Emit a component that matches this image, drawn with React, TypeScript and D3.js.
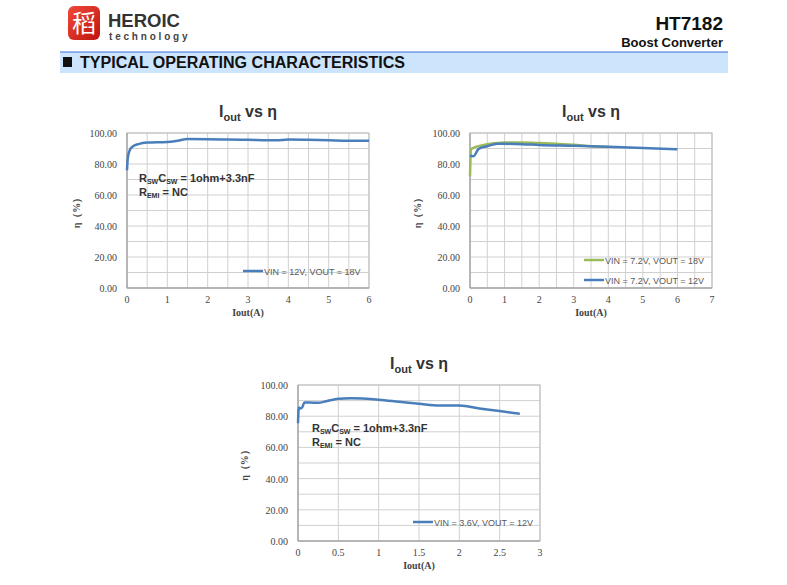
import React from 'react';
import * as d3 from 'd3';

// efficiency curves, Iout (A) vs efficiency (%)
const iout12to18 = [0, 0.02, 0.07, 0.15, 0.3, 0.5, 1, 1.25, 1.5, 2, 2.5, 3, 3.5, 3.7, 4, 4.5, 5, 5.5, 6];
const eff12to18 = [76, 84, 89, 91.5, 93, 93.8, 94.2, 95, 96.1, 96, 95.8, 95.6, 95.3, 95.3, 95.8, 95.6, 95.3, 95, 95];

const iout72to18 = [0, 0.03, 0.1, 0.3, 0.5, 0.8, 1, 1.5, 2, 2.5, 3, 3.5, 4];
const eff72to18 = [72, 89.5, 90.5, 91.8, 92.8, 93.6, 93.8, 93.8, 93.5, 93, 92.4, 91.5, 91];

const iout72to12 = [0, 0.1, 0.25, 0.5, 0.8, 1, 1.5, 2, 3, 4, 5, 6];
const eff72to12 = [85.3, 85, 89.8, 91.5, 93, 93, 92.8, 92.3, 91.8, 91.2, 90.4, 89.5];

const iout36to12 = [0, 0.01, 0.03, 0.05, 0.08, 0.15, 0.25, 0.35, 0.5, 0.65, 1, 1.25, 1.5, 1.75, 2, 2.25, 2.5, 2.75];
const eff36to12 = [75.5, 85.5, 85, 85.5, 88.8, 88.8, 88.6, 89.6, 91.2, 91.5, 90.6, 89.3, 88, 86.8, 86.8, 85, 83.3, 81.5];

const yTicks = [0, 20, 40, 60, 80, 100];
const xTicksA = [0, 1, 2, 3, 4, 5, 6];
const xTicksB = [0, 1, 2, 3, 4, 5, 6, 7];
const xTicksC = [0, 0.5, 1, 1.5, 2, 2.5, 3];

const BLUE = '#4a7ebb';
const GREEN = '#9bbb59';
const serif = '"Liberation Serif", "DejaVu Serif", serif';
const sans = '"Liberation Sans", Arial, sans-serif';

type Series = { xs: number[]; ys: number[]; color: string; label: string; legendY: number };

type ChartProps = {
  left: number; right: number; top: number; bottom: number;
  xMax: number; xTicks: number[];
  series: Series[];
  legendX: number;
  note?: { x: number; y: number };
  yLabelX: number;
};

const Chart = ({ left, right, top, bottom, xMax, xTicks, series, legendX, note, yLabelX }: ChartProps) => {
  const x = d3.scaleLinear().domain([0, xMax]).range([left, right]);
  const y = d3.scaleLinear().domain([0, 100]).range([bottom, top]);
  const vGrid = d3.range(0, xMax + 0.001, 0.5);
  const hGrid = d3.range(0, 101, 10);
  const line = d3.line<[number, number]>()
    .x(d => x(d[0]))
    .y(d => y(d[1]))
    .curve(d3.curveMonotoneX);
  const cx = (left + right) / 2;

  return (
    <g>
      <text x={cx} y={top - 16} textAnchor="middle" fontFamily={sans} fontWeight="bold" fontSize={16} fill="#333">
        I<tspan fontSize={11} dy={4}>out</tspan><tspan dy={-4}> vs η</tspan>
      </text>
      {hGrid.map(v => (
        <line key={'h' + v} x1={left} x2={right} y1={y(v)} y2={y(v)} stroke="#d0d0d0" strokeWidth={1} />
      ))}
      {vGrid.map(v => (
        <line key={'v' + v} x1={x(v)} x2={x(v)} y1={top} y2={bottom} stroke="#d0d0d0" strokeWidth={1} />
      ))}
      <rect x={left} y={top} width={right - left} height={bottom - top} fill="none" stroke="#bdbdbd" />
      <line x1={left} x2={left} y1={top} y2={bottom} stroke="#999" />
      <line x1={left} x2={right} y1={bottom} y2={bottom} stroke="#999" />
      {yTicks.map(v => (
        <text key={'yt' + v} x={left - 10} y={y(v) + 4} textAnchor="end" fontFamily={serif} fontSize={10} fill="#444">
          {v.toFixed(2)}
        </text>
      ))}
      {xTicks.map(v => (
        <text key={'xt' + v} x={x(v)} y={bottom + 15} textAnchor="middle" fontFamily={serif} fontSize={10} fill="#444">
          {v}
        </text>
      ))}
      <text x={cx} y={bottom + 28} textAnchor="middle" fontFamily={serif} fontWeight="bold" fontSize={10} fill="#444">Iout(A)</text>
      <text transform={`translate(${yLabelX},${(top + bottom) / 2}) rotate(-90)`} textAnchor="middle"
        fontFamily={serif} fontWeight="bold" fontSize={10} fill="#444">η（%）</text>
      {series.map(s => (
        <path key={s.label} d={line(s.xs.map((v, i) => [v, s.ys[i]] as [number, number])) || ''}
          fill="none" stroke={s.color} strokeWidth={2.5} strokeLinejoin="round" />
      ))}
      {series.map(s => (
        <g key={'lg' + s.label}>
          <line x1={legendX} x2={legendX + 20} y1={s.legendY} y2={s.legendY} stroke={s.color} strokeWidth={2.5} />
          <text x={legendX + 21} y={s.legendY + 3.5} fontFamily={sans} fontSize={9} fill="#595959">{s.label}</text>
        </g>
      ))}
      {note && (
        <text fontFamily={sans} fontWeight="bold" fontSize={11} fill="#333">
          <tspan x={note.x} y={note.y}>R</tspan><tspan fontSize={7} dy={2}>SW</tspan>
          <tspan dy={-2}>C</tspan><tspan fontSize={7} dy={2}>SW</tspan>
          <tspan dy={-2}> = 1ohm+3.3nF</tspan>
          <tspan x={note.x} y={note.y + 14}>R</tspan><tspan fontSize={7} dy={2}>EMI</tspan>
          <tspan dy={-2}> = NC</tspan>
        </text>
      )}
    </g>
  );
};

const App = () => {
  return (
    <div style={{ position: 'absolute', left: 0, top: 0 }}>
      <svg width={787} height={585} style={{ display: 'block', background: '#fff' }}>
        <defs>
          <linearGradient id="logo" x1="0" y1="0" x2="1" y2="1">
            <stop offset="0" stopColor="#f04a3a" />
            <stop offset="1" stopColor="#c0140e" />
          </linearGradient>
        </defs>
        {/* header */}
        <rect x={68} y={6} width={32} height={34} rx={6} fill="url(#logo)" />
        <text x={84} y={32} textAnchor="middle" fontFamily='"Noto Sans CJK TC", sans-serif' fontSize={24} fill="#fff">稻</text>
        <text x={108} y={27} fontFamily={sans} fontWeight="bold" fontSize={18} fill="#333" textLength={72} lengthAdjust="spacingAndGlyphs">HEROIC</text>
        <text x={109} y={40} fontFamily={sans} fontWeight="bold" fontSize={10} letterSpacing={2.8} fill="#444">technology</text>
        <text x={723} y={30} textAnchor="end" fontFamily={sans} fontWeight="bold" fontSize={19} fill="#111">HT7182</text>
        <text x={723} y={47} textAnchor="end" fontFamily={sans} fontWeight="bold" fontSize={13} fill="#111">Boost Converter</text>
        <rect x={60} y={52} width={668} height={21} fill="#cce4fc" />
        <line x1={60} x2={728} y1={52} y2={52} stroke="#3a6fd8" strokeWidth={1.2} />
        <rect x={63} y={57} width={9} height={10} fill="#111" />
        <text x={80} y={68} fontFamily={sans} fontWeight="bold" fontSize={16} fill="#111" textLength={325} lengthAdjust="spacingAndGlyphs">TYPICAL OPERATING CHARACTERISTICS</text>

        <Chart left={127} right={369} top={133} bottom={288} xMax={6} xTicks={xTicksA}
          series={[{ xs: iout12to18, ys: eff12to18, color: BLUE, label: 'VIN = 12V, VOUT = 18V', legendY: 271 }]}
          legendX={243} note={{ x: 139, y: 182 }} yLabelX={80} />
        <Chart left={470} right={712} top={133} bottom={288} xMax={7} xTicks={xTicksB}
          series={[
            { xs: iout72to18, ys: eff72to18, color: GREEN, label: 'VIN = 7.2V, VOUT = 18V', legendY: 260 },
            { xs: iout72to12, ys: eff72to12, color: BLUE, label: 'VIN = 7.2V, VOUT = 12V', legendY: 280 },
          ]}
          legendX={584} yLabelX={421} />
        <Chart left={298} right={540} top={385} bottom={541} xMax={3} xTicks={xTicksC}
          series={[{ xs: iout36to12, ys: eff36to12, color: BLUE, label: 'VIN = 3.6V, VOUT = 12V', legendY: 522 }]}
          legendX={413} note={{ x: 312, y: 432 }} yLabelX={248} />
      </svg>
    </div>
  );
};

export default App;
